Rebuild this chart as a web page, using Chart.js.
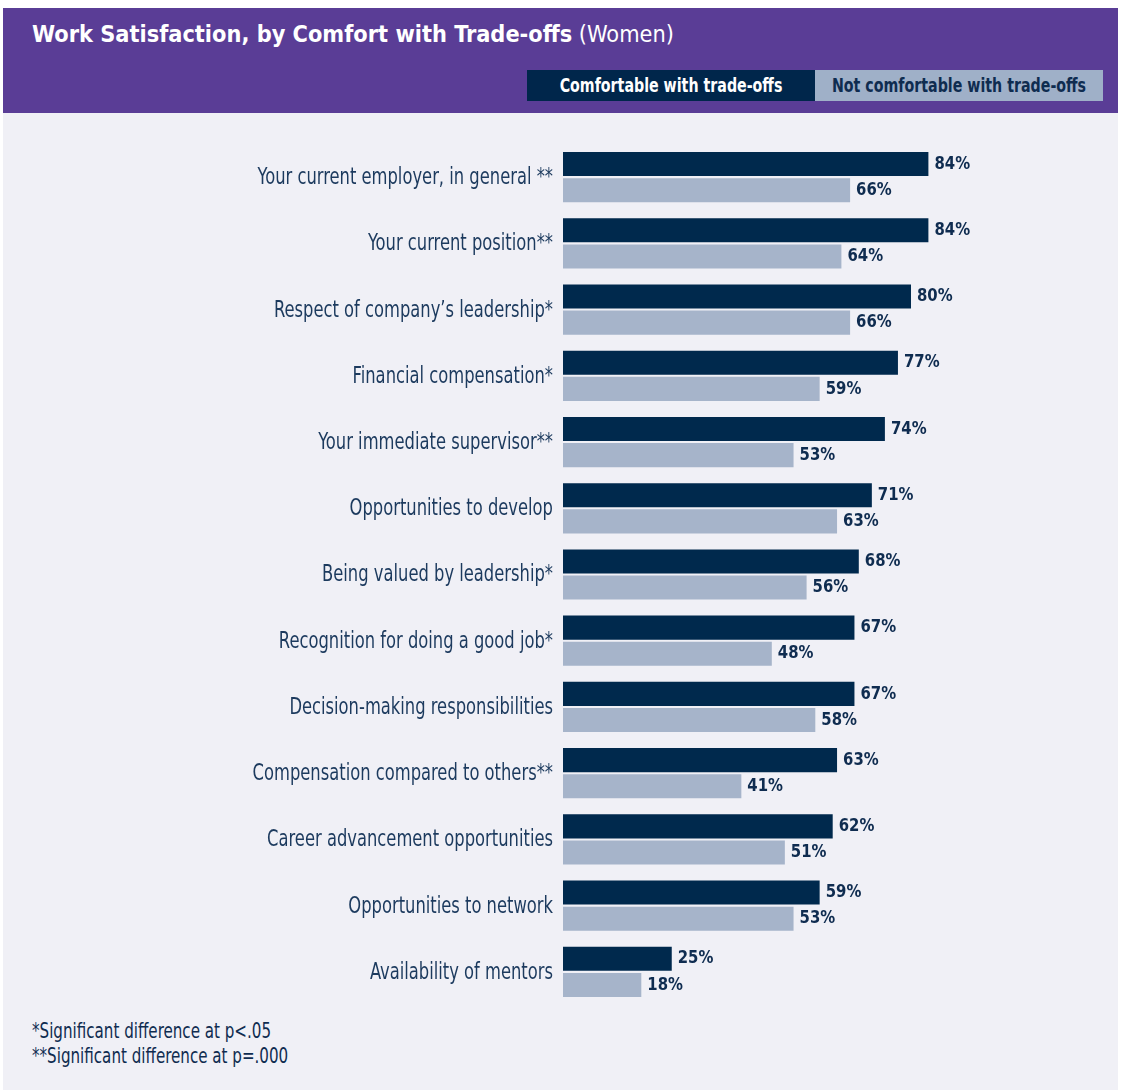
<!DOCTYPE html>
<html>
<head>
<meta charset="utf-8">
<script src="https://cdn.jsdelivr.net/npm/chart.js@4.4.1/dist/chart.umd.min.js"></script>
<style>
  html, body { margin: 0; padding: 0; background: #ffffff; }
  body { width: 1121px; height: 1090px; position: relative; overflow: hidden;
         font-family: 'DejaVu Sans Condensed', 'Liberation Sans Narrow', 'Roboto', sans-serif; }
  #panel { position: absolute; left: 3px; top: 8px; width: 1115px; height: 1082px; background: #f0f0f6; }
  #header { position: absolute; left: 3px; top: 8px; width: 1115px; height: 105px; background: #5a3d96; }
  #title { position: absolute; left: 29px; top: 12px; color: #ffffff; font-size: 23.3px; white-space: nowrap; }
  #title b { font-weight: bold; }
  #title span { font-weight: normal; }
  .key { position: absolute; top: 62px; height: 31px; line-height: 31px;
         font-size: 20px; font-weight: bold; white-space: nowrap; }
  .key span { position: absolute; left: 50%; top: 0; transform: translateX(-50%) scaleX(0.79); }
  #key1 { left: 524px; width: 288px; background: #00264b; color: #ffffff; }
  #key2 { left: 812px; width: 288px; background: #9fb0c8; color: #0f2c50; }
  #notes { position: absolute; left: 32px; top: 1019px; color: #0f2c50; font-size: 21px; line-height: 25px;
           transform: scaleX(0.8); transform-origin: left top; white-space: nowrap; }
  #chart { position: absolute; left: 0; top: 0; }
</style>
</head>
<body>
<div id="panel"></div>
<div id="header">
  <div id="title"><b>Work Satisfaction, by Comfort with Trade-offs</b> <span>(Women)</span></div>
  <div class="key" id="key1"><span>Comfortable with trade-offs</span></div>
  <div class="key" id="key2"><span>Not comfortable with trade-offs</span></div>
</div>
<div id="notes">*Significant difference at p&lt;.05<br>**Significant difference at p=.000</div>
<canvas id="chart" width="1121" height="1090"></canvas>
<script>
const categories = [
  'Your current employer, in general **',
  'Your current position**',
  'Respect of company\u2019s leadership*',
  'Financial compensation*',
  'Your immediate supervisor**',
  'Opportunities to develop',
  'Being valued by leadership*',
  'Recognition for doing a good job*',
  'Decision-making responsibilities',
  'Compensation compared to others**',
  'Career advancement opportunities',
  'Opportunities to network',
  'Availability of mentors'
];
const comfortable = [84, 84, 80, 77, 74, 71, 68, 67, 67, 63, 62, 59, 25];
const notComfortable = [66, 64, 66, 59, 53, 63, 56, 48, 58, 41, 51, 53, 18];
const seriesNames = ['Comfortable with trade-offs', 'Not comfortable with trade-offs'];

const FONT = "'DejaVu Sans Condensed', 'Liberation Sans Narrow', 'Roboto', sans-serif";

// Category names, drawn narrow and right-aligned against the bars
const categoryLabels = {
  id: 'categoryLabels',
  afterDraw(chart) {
    const scale = chart.scales.y;
    const ctx = chart.ctx;
    ctx.save();
    ctx.font = '23px ' + FONT;
    ctx.fillStyle = '#1c3a5e';
    ctx.textAlign = 'right';
    ctx.textBaseline = 'middle';
    scale.ticks.forEach((t, i) => {
      ctx.save();
      ctx.translate(scale.right - 10, scale.getPixelForTick(i) + 1);
      ctx.scale(0.79, 1);
      ctx.fillText(scale.getLabelForValue(t.value), 0, 0);
      ctx.restore();
    });
    ctx.restore();
  }
};

// Writes "NN%" just past the end of each bar
const valueLabels = {
  id: 'valueLabels',
  afterDatasetsDraw(chart) {
    const ctx = chart.ctx;
    ctx.save();
    ctx.font = 'bold 18px ' + FONT;
    ctx.fillStyle = '#0f2c50';
    ctx.textAlign = 'left';
    ctx.textBaseline = 'middle';
    chart.data.datasets.forEach((ds, i) => {
      chart.getDatasetMeta(i).data.forEach((bar, j) => {
        ctx.save();
        ctx.translate(bar.x + 6, bar.y);
        ctx.scale(0.92, 1);
        ctx.fillText(ds.data[j] + '%', 0, 0);
        ctx.restore();
      });
    });
    ctx.restore();
  }
};

new Chart(document.getElementById('chart'), {
  type: 'bar',
  data: {
    labels: categories,
    datasets: [
      { label: seriesNames[0], data: comfortable, backgroundColor: '#00294d' },
      { label: seriesNames[1], data: notComfortable, backgroundColor: '#a6b4ca' }
    ]
  },
  options: {
    indexAxis: 'y',
    responsive: false,
    animation: false,
    categoryPercentage: 0.79,
    barPercentage: 0.92,
    layout: { padding: { left: 0, right: 123, top: 144, bottom: 85 } },
    plugins: { legend: { display: false }, tooltip: { enabled: false } },
    scales: {
      x: { display: false, min: 0, max: 100 },
      y: {
        grid: { display: false, drawTicks: false },
        border: { display: false },
        ticks: { display: false },
        afterFit(scale) { scale.width = 563; }
      }
    }
  },
  plugins: [valueLabels, categoryLabels]
});
</script>
</body>
</html>
